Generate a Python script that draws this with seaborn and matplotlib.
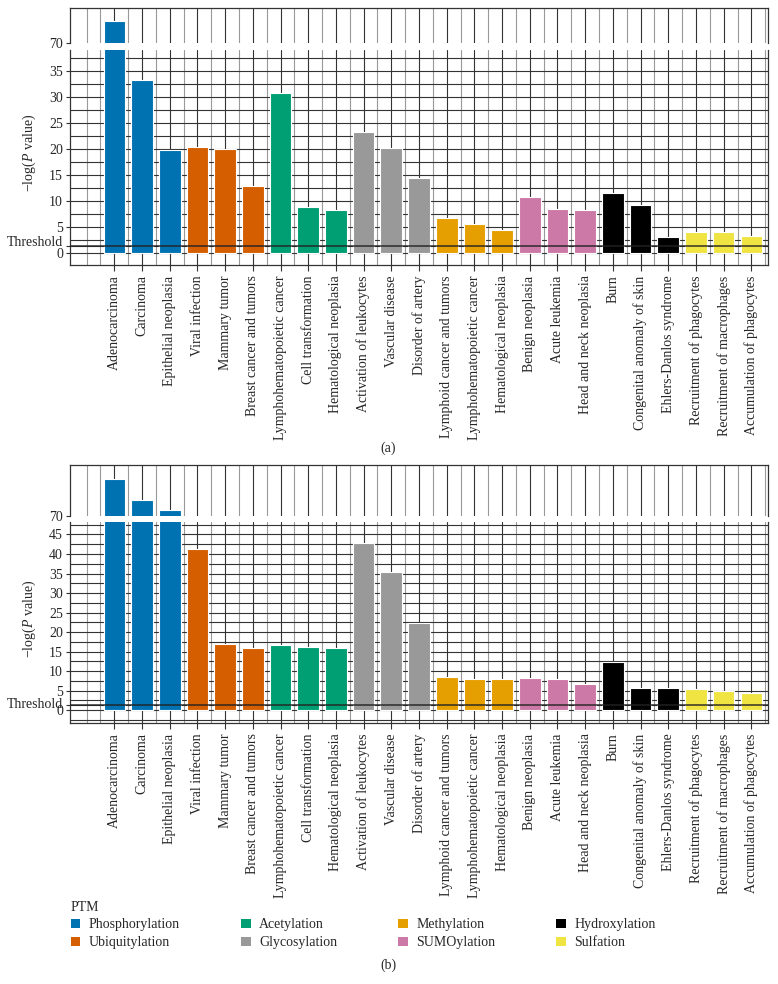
import matplotlib
matplotlib.use('Agg')
import matplotlib.pyplot as plt
from matplotlib.patches import Patch
from matplotlib.ticker import FixedLocator, MultipleLocator
from matplotlib.transforms import ScaledTranslation
import numpy as np
import pandas as pd
import seaborn as sns

# bar labels, left to right (same order in both panels)
diseases = [
    'Adenocarcinoma', 'Carcinoma', 'Epithelial neoplasia',
    'Viral infection', 'Mammary tumor', 'Breast cancer and tumors',
    'Lymphohematopoietic cancer', 'Cell transformation', 'Hematological neoplasia',
    'Activation of leukocytes', 'Vascular disease', 'Disorder of artery',
    'Lymphoid cancer and tumors', 'Lymphohematopoietic cancer', 'Hematological neoplasia',
    'Benign neoplasia', 'Acute leukemia', 'Head and neck neoplasia',
    'Burn', 'Congenital anomaly of skin', 'Ehlers-Danlos syndrome',
    'Recruitment of phagocytes', 'Recruitment of macrophages', 'Accumulation of phagocytes',
]
bar_ptm = [
    'Phosphorylation', 'Phosphorylation', 'Phosphorylation',
    'Ubiquitylation', 'Ubiquitylation', 'Ubiquitylation',
    'Acetylation', 'Acetylation', 'Acetylation',
    'Glycosylation', 'Glycosylation', 'Glycosylation',
    'Methylation', 'Methylation', 'Methylation',
    'SUMOylation', 'SUMOylation', 'SUMOylation',
    'Hydroxylation', 'Hydroxylation', 'Hydroxylation',
    'Sulfation', 'Sulfation', 'Sulfation',
]
ptm_order = ['Phosphorylation', 'Ubiquitylation', 'Acetylation', 'Glycosylation',
             'Methylation', 'SUMOylation', 'Hydroxylation', 'Sulfation']
ptm_colors = ['#0072B2', '#D55E00', '#009E73', '#999999',
              '#E69F00', '#CC79A7', '#000000', '#F0E442']

# -log(P value)
values_a = [74.3, 33.3, 19.8, 20.4, 20.0, 12.9, 30.7, 8.9, 8.3, 23.3, 20.2, 14.4,
            6.8, 5.5, 4.5, 10.7, 8.4, 8.3, 11.6, 9.3, 3.1, 4.1, 4.0, 3.3]
values_b = [79.7, 74.1, 71.5, 41.2, 17.0, 15.8, 16.8, 16.1, 15.9, 42.8, 35.3, 22.3,
            8.5, 8.1, 8.1, 8.3, 8.1, 6.7, 12.4, 5.7, 5.7, 5.4, 5.0, 4.5]
threshold = 1.3

sns.set_style('white')
plt.rcParams['font.family'] = ['Liberation Serif', 'DejaVu Serif']
plt.rcParams['mathtext.fontset'] = 'custom'
plt.rcParams['mathtext.rm'] = 'Liberation Serif'
plt.rcParams['mathtext.it'] = 'Liberation Serif:italic'
FS = 10

palette = dict(zip(ptm_order, ptm_colors))
W, H = 778, 984
fig = plt.figure(figsize=(W / 100, H / 100), dpi=100)

def box(top, bottom, left=70, right=768):
    return [left / W, 1 - bottom / H, (right - left) / W, (bottom - top) / H]

def draw_bars(ax, vals):
    df = pd.DataFrame({'pos': np.arange(len(vals)), 'value': vals, 'ptm': bar_ptm})
    sns.barplot(data=df, x='pos', y='value', hue='ptm', hue_order=ptm_order,
                palette=palette, dodge=False, width=0.78, saturation=1,
                edgecolor='white', linewidth=0.8, legend=False, ax=ax, zorder=2)
    ax.set_xlim(-1.6, len(vals) - 0.4)
    ax.xaxis.set_major_locator(FixedLocator(np.arange(len(vals))))
    ax.xaxis.set_minor_locator(FixedLocator(np.arange(-1, len(vals) + 0.01, 0.5)))
    ax.set_axisbelow(True)
    ax.grid(True, axis='x', which='major', color='#333333', lw=0.8)
    ax.grid(True, axis='x', which='minor', color='#999999', lw=0.8)
    ax.set_xlabel('')
    ax.set_ylabel('')
    for s in ax.spines.values():
        s.set_color('#333333')
        s.set_linewidth(0.9)

def panel(vals, upper_box, lower_box, low_lim, up_lim, top_tick, tag, tag_y, lift):
    ax_up = fig.add_axes(upper_box)
    ax_lo = fig.add_axes(lower_box)
    draw_bars(ax_up, vals)
    draw_bars(ax_lo, vals)

    ax_up.set_ylim(*up_lim)
    ax_up.set_yticks([70])
    ax_up.set_yticklabels(['70'], fontsize=FS)
    ax_up.tick_params(axis='x', which='both', bottom=False, labelbottom=False)
    ax_up.tick_params(axis='y', left=True, length=3, color='#333333', pad=2)
    ax_up.spines['bottom'].set_visible(False)

    ax_lo.set_ylim(*low_lim)
    ticks = [0, threshold] + list(range(5, top_tick + 1, 5))
    ax_lo.set_yticks(ticks)
    ax_lo.set_yticklabels(['0', 'Threshold'] + [str(t) for t in range(5, top_tick + 1, 5)],
                          fontsize=FS)
    ax_lo.yaxis.set_minor_locator(MultipleLocator(2.5))
    ax_lo.grid(True, axis='y', which='both', color='#333333', lw=0.8)
    ax_lo.tick_params(axis='y', left=True, length=3, color='#333333', pad=2)
    ax_lo.tick_params(axis='x', which='major', bottom=True, length=4, color='#333333')
    ax_lo.tick_params(axis='x', which='minor', bottom=False)
    ax_lo.set_xticklabels(diseases, rotation=90, fontsize=FS)
    ax_lo.spines['top'].set_visible(False)
    ax_lo.axhline(threshold, color='#222222', lw=1.2, alpha=0.85, zorder=3)
    ax_lo.set_ylabel('\u2212log($P$ value)', fontsize=FS)
    ax_lo.yaxis.set_label_coords(-0.046, 0.52)

    # lift "Threshold" off the "0" label
    lab = ax_lo.get_yticklabels()[1]
    lab.set_transform(lab.get_transform() + ScaledTranslation(0, lift / 100, fig.dpi_scale_trans))

    fig.text(388 / W, 1 - tag_y / H, tag, ha='center', va='center', fontsize=FS)

panel(values_a, box(8, 43), box(50, 265), (-2.3, 39.0), (70, 76.9), 35, '(a)', 448, 5)
panel(values_b, box(465, 516), box(522, 723), (-3.3, 48.2), (70, 83.3), 45, '(b)', 965, 2.5)

handles = [Patch(facecolor=c, edgecolor='none') for c in ptm_colors]
fig.legend(handles, ptm_order, title='PTM', loc='upper left', ncol=4,
           bbox_to_anchor=(65 / W, 1 - 895 / H), frameon=False, fontsize=FS,
           title_fontsize=FS, alignment='left', handlelength=0.7, handleheight=0.7,
           handletextpad=0.6, columnspacing=4.4, labelspacing=0.35, borderaxespad=0)

fig.savefig('out.png', dpi=100)
